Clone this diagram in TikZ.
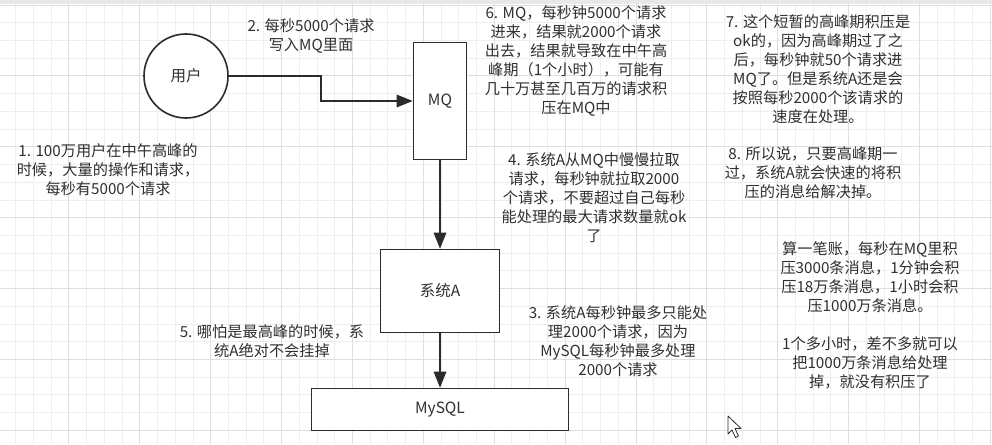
\documentclass[tikz,border=0pt]{standalone}
\usepackage{fontspec}
\newfontfamily\cjk{Noto Sans CJK SC}
\usetikzlibrary{arrows.meta}
\definecolor{linec}{HTML}{2B2B2B}
\definecolor{textc}{HTML}{303030}
\definecolor{gridminor}{HTML}{EEEEEE}
\definecolor{gridmajor}{HTML}{DEDEDE}
\definecolor{topband}{HTML}{E8E8E8}
\tikzset{
  shapebox/.style={draw=linec, line width=1.6pt, fill=white, inner sep=0pt,
    font=\cjk\fontsize{15.5}{19}\selectfont, text=textc},
  circnode/.style={shapebox, circle, minimum size=84pt},
  note/.style={font=\cjk\fontsize{15.2}{19}\selectfont, text=textc, align=center, inner sep=0pt},
  flow/.style={draw=linec, line width=1.6pt, -{Triangle[length=16pt,width=12.5pt]}},
}
\begin{document}
\begin{tikzpicture}[x=1pt,y=-1pt]
\useasboundingbox (0,0) rectangle (992,444);
\fill[white] (0,0) rectangle (992,444);
% grid
\foreach \k in {1,...,56} {
  \pgfmathsetmacro\xx{-2+17.72*\k}
  \draw[gridminor, line width=0.8pt] (\xx,0) -- (\xx,444);
}
\foreach \k in {0,...,24} {
  \pgfmathsetmacro\yy{5+17.72*\k}
  \draw[gridminor, line width=0.8pt] (0,\yy) -- (992,\yy);
}
\foreach \k in {0,...,14} {
  \pgfmathsetmacro\xx{-2+70.88*\k}
  \draw[gridmajor, line width=0.8pt] (\xx,0) -- (\xx,444);
}
\foreach \k in {0,...,6} {
  \pgfmathsetmacro\yy{5+70.88*\k}
  \draw[gridmajor, line width=0.8pt] (0,\yy) -- (992,\yy);
}
\fill[topband] (0,0) rectangle (992,4);

% shapes
\node[circnode] (u) at (186,76) {用户};
\node[shapebox, minimum width=53pt, minimum height=117pt] (mq) at (440,101) {MQ};
\node[shapebox, minimum width=119pt, minimum height=83pt] (a) at (440,291) {系统A};
\node[shapebox, minimum width=257pt, minimum height=42pt] (db) at (440,409.5) {MySQL};

% connectors
\draw[flow] (u.east) -- ++(92,0) |- (mq.west);
\draw[flow] (mq.south) -- (a.north);
\draw[flow] (a.south) -- (db.north);

% notes
\node[note] (t2) at (311,36) {2. 每秒5000个请求\\写入MQ里面};
\node[note] (t1) at (108,170) {1. 100万用户在中午高峰的\\时候，大量的操作和请求，\\每秒有5000个请求};
\node[note] (t6) at (576,61) {6. MQ，每秒钟5000个请求\\进来，结果就2000个请求\\出去，结果就导致在中午高\\峰期（1个小时），可能有\\几十万甚至几百万的请求积\\压在MQ中};
\node[note] (t4) at (594,198) {4. 系统A从MQ中慢慢拉取\\请求，每秒钟就拉取2000\\个请求，不要超过自己每秒\\能处理的最大请求数量就ok\\了};
\node[note] (t7) at (818,69) {7. 这个短暂的高峰期积压是\\ok的，因为高峰期过了之\\后，每秒钟就50个请求进\\MQ了。但是系统A还是会\\按照每秒2000个该请求的\\速度在处理。};
\node[note] (t8) at (813,173) {8. 所以说，只要高峰期一\\过，系统A就会快速的将积\\压的消息给解决掉。};
\node[note] (t9) at (870,315) {算一笔账，每秒在MQ里积\\压3000条消息，1分钟会积\\压18万条消息，1小时会积\\压1000万条消息。\\[19pt]1个多小时，差不多就可以\\把1000万条消息给处理\\掉，就没有积压了};
\node[note] (t3) at (618,341) {3. 系统A每秒钟最多只能处\\理2000个请求，因为\\MySQL每秒钟最多处理\\2000个请求};
\node[note] (t5) at (272,341) {5. 哪怕是最高峰的时候，系\\统A绝对不会挂掉};

% mouse cursor
\draw[fill=white, draw=linec, line width=0.8pt, line join=round]
  (728,416) -- (728,434) -- (732,430) -- (735.5,437.5) -- (738.5,436) -- (735,428.5) -- (741,428.5) -- cycle;
\end{tikzpicture}
\end{document}
